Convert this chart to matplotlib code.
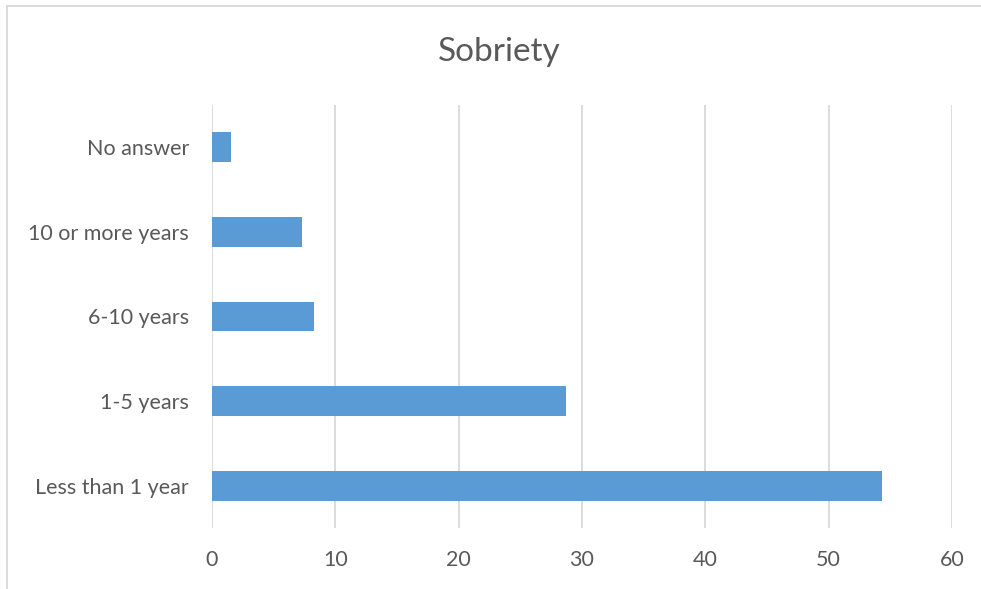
import matplotlib.pyplot as plt
from matplotlib.lines import Line2D

# Data
categories = ["Less than 1 year", "1-5 years", "6-10 years", "10 or more years", "No answer"]
values = [54.3, 28.7, 8.3, 7.3, 1.5]
xticks = [0, 10, 20, 30, 40, 50, 60]

plt.rcParams['font.family'] = ['Lato', 'DejaVu Sans']

W, H = 981, 589
fig = plt.figure(figsize=(W / 100, H / 100), dpi=100)
ax = fig.add_axes([212 / W, (H - 528) / H, (952 - 212) / W, (528 - 105) / H])

text_col = '#595959'
grid_col = '#D9D9D9'

ax.barh(range(len(categories)), values, height=0.35, color='#5B9BD5', zorder=3)

ax.set_xlim(0, 60)
ax.set_ylim(-0.5, len(categories) - 0.5)
ax.set_xticks(xticks)
ax.set_yticks(range(len(categories)))
ax.set_yticklabels(categories)

ax.grid(axis='x', color=grid_col, linewidth=1.3, zorder=0)
for s in ax.spines.values():
    s.set_visible(False)
ax.tick_params(axis='both', length=0, colors=text_col, labelsize=15.5)
ax.tick_params(axis='y', pad=16.5)
ax.tick_params(axis='x', pad=16)

fig.text(499 / W, (H - 61) / H, 'Sobriety', ha='center', va='baseline',
         fontsize=24, color=text_col)

# chart frame (only top and left edges are visible in the crop)
fig.add_artist(Line2D([7 / W, 7 / W], [0, (H - 6) / H], color=grid_col, linewidth=1.3))
fig.add_artist(Line2D([7 / W, 1], [(H - 6) / H, (H - 6) / H], color=grid_col, linewidth=1.3))

fig.savefig('out.png', dpi=100)
